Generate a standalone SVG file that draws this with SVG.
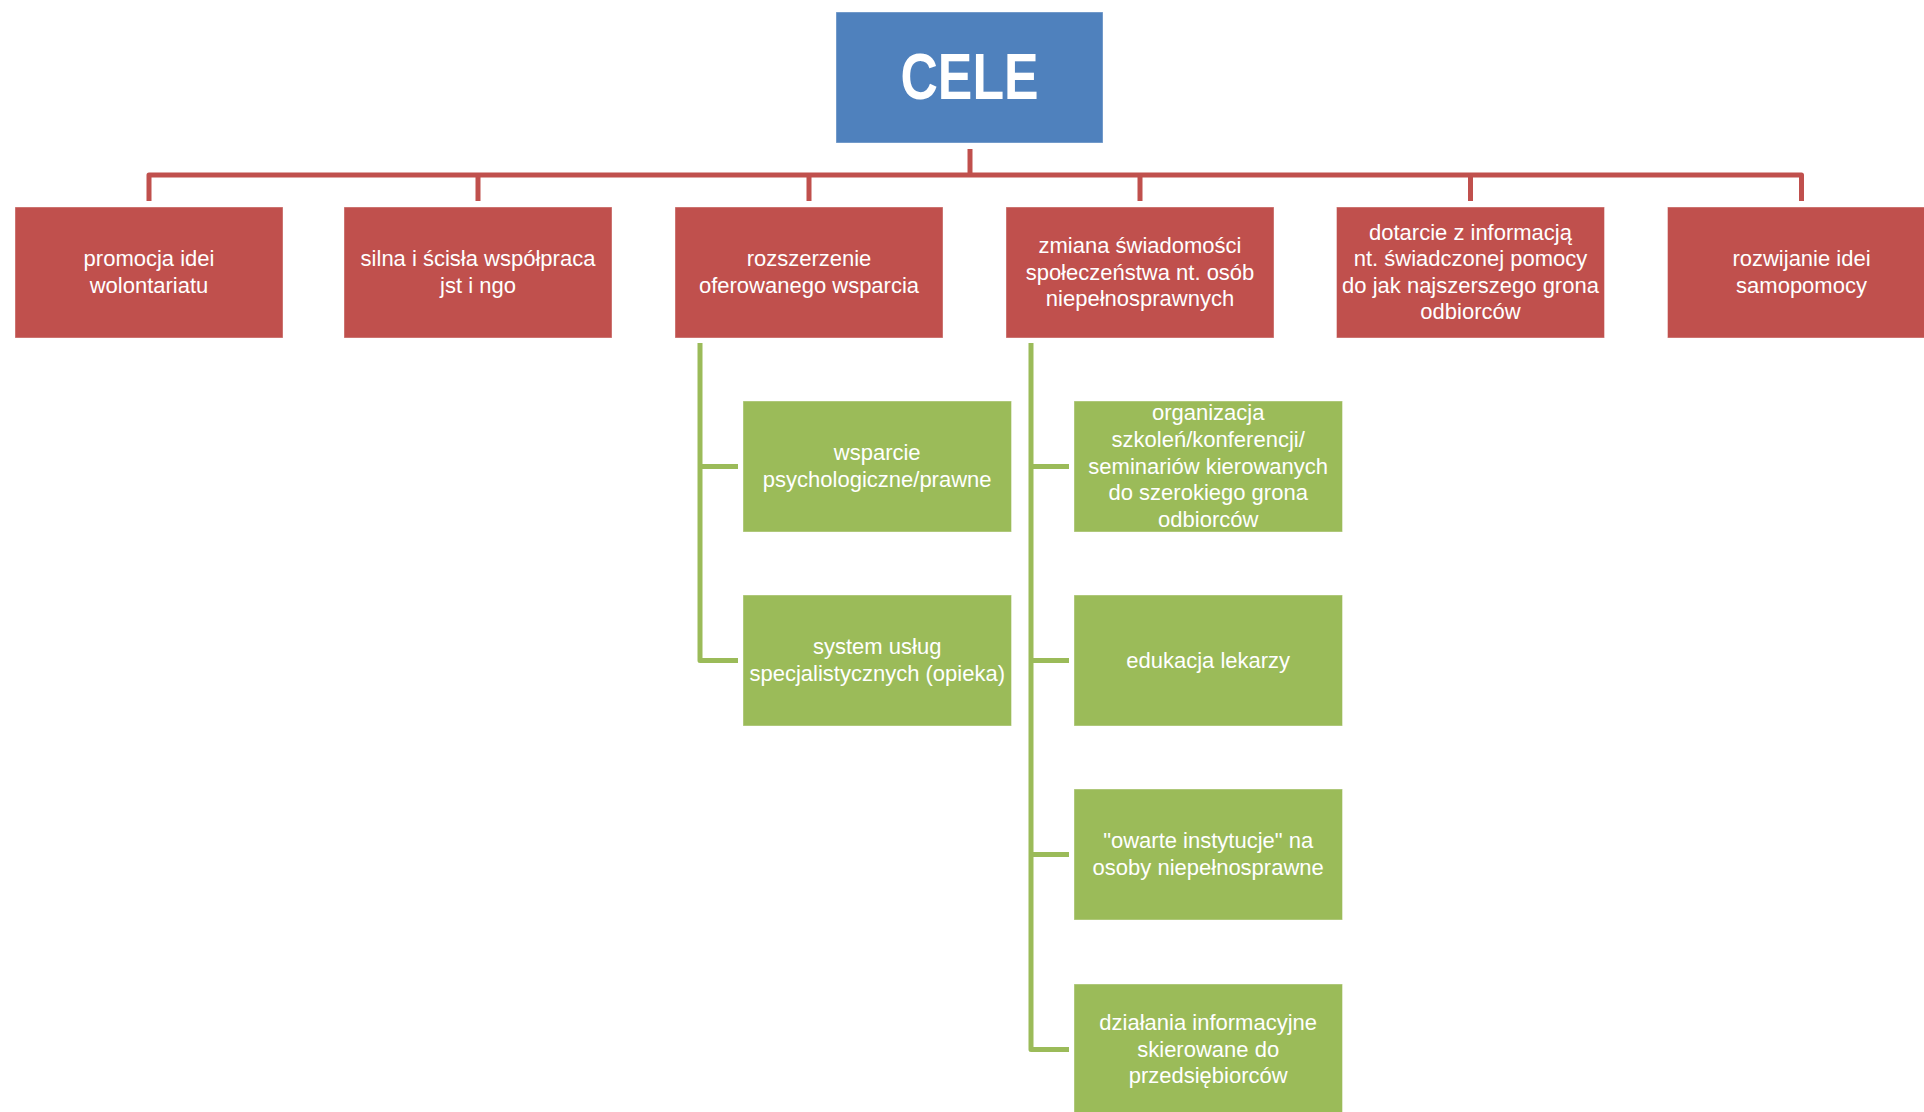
<svg xmlns="http://www.w3.org/2000/svg" width="1924" height="1112" viewBox="0 0 1924 1112">
<style>
.bg{fill:#ffffff}
.root{fill:#4F81BD;stroke:#ffffff;stroke-opacity:0.4;stroke-width:1}
.red{fill:#C0504D;stroke:#ffffff;stroke-opacity:0.4;stroke-width:1}
.green{fill:#9BBB59;stroke:#ffffff;stroke-opacity:0.4;stroke-width:1}
.t{font-family:"Liberation Sans",Arial,sans-serif;font-size:22px;fill:#ffffff;text-anchor:middle}
.tt{font-family:"Liberation Sans",Arial,sans-serif;font-size:64px;font-weight:bold;fill:#ffffff;text-anchor:middle}
.cr{fill:none;stroke:#C0504D;stroke-width:5;stroke-linejoin:round}
.cg{fill:none;stroke:#9BBB59;stroke-width:5;stroke-linejoin:round}
</style>
<rect class="bg" x="0" y="0" width="1924" height="1112"/>
<g id="connectors">
<path class="cr" d="M970,149 V175"/>
<path class="cr" d="M149,201 V175 H1801.5 V201"/>
<path class="cr" d="M478,175 V201 M809,175 V201 M1140,175 V201 M1470.5,175 V201"/>
<path class="cg" d="M700,343 V660.5 H738 M700,466.5 H738"/>
<path class="cg" d="M1031,343 V1049.5 H1069 M1031,466.5 H1069 M1031,660.5 H1069 M1031,854.5 H1069"/>
</g>
<g id="cele">
<rect class="root" x="836" y="12" width="267" height="131"/>
<text class="tt" x="969.5" y="99" textLength="138" lengthAdjust="spacingAndGlyphs">CELE</text>
</g>
<g id="n1">
<rect class="red" x="15" y="207" width="268" height="131"/>
<text class="t"><tspan x="149" y="266.2">promocja idei</tspan><tspan x="149" y="292.8">wolontariatu</tspan></text>
</g>
<g id="n2">
<rect class="red" x="344" y="207" width="268" height="131"/>
<text class="t"><tspan x="478" y="266.2">silna i ścisła współpraca</tspan><tspan x="478" y="292.8">jst i ngo</tspan></text>
</g>
<g id="n3">
<rect class="red" x="675" y="207" width="268" height="131"/>
<text class="t"><tspan x="809" y="266.2">rozszerzenie</tspan><tspan x="809" y="292.8">oferowanego wsparcia</tspan></text>
</g>
<g id="n4">
<rect class="red" x="1006" y="207" width="268" height="131"/>
<text class="t"><tspan x="1140" y="252.9">zmiana świadomości</tspan><tspan x="1140" y="279.5">społeczeństwa nt. osób</tspan><tspan x="1140" y="306.1">niepełnosprawnych</tspan></text>
</g>
<g id="n5">
<rect class="red" x="1336.5" y="207" width="268" height="131"/>
<text class="t"><tspan x="1470.5" y="239.6">dotarcie z informacją</tspan><tspan x="1470.5" y="266.2">nt. świadczonej pomocy</tspan><tspan x="1470.5" y="292.8">do jak najszerszego grona</tspan><tspan x="1470.5" y="319.4">odbiorców</tspan></text>
</g>
<g id="n6">
<rect class="red" x="1667.5" y="207" width="268" height="131"/>
<text class="t"><tspan x="1801.5" y="266.2">rozwijanie idei</tspan><tspan x="1801.5" y="292.8">samopomocy</tspan></text>
</g>
<g id="g1">
<rect class="green" x="743" y="401" width="268.5" height="131"/>
<text class="t"><tspan x="877.2" y="460.2">wsparcie</tspan><tspan x="877.2" y="486.8">psychologiczne/prawne</tspan></text>
</g>
<g id="g2">
<rect class="green" x="743" y="595" width="268.5" height="131"/>
<text class="t"><tspan x="877.2" y="654.2">system usług</tspan><tspan x="877.2" y="680.8">specjalistycznych (opieka)</tspan></text>
</g>
<g id="g3">
<rect class="green" x="1074" y="401" width="268.5" height="131"/>
<text class="t"><tspan x="1208.2" y="420.3">organizacja</tspan><tspan x="1208.2" y="446.9">szkoleń/konferencji/</tspan><tspan x="1208.2" y="473.5">seminariów kierowanych</tspan><tspan x="1208.2" y="500.1">do szerokiego grona</tspan><tspan x="1208.2" y="526.7">odbiorców</tspan></text>
</g>
<g id="g4">
<rect class="green" x="1074" y="595" width="268.5" height="131"/>
<text class="t"><tspan x="1208.2" y="667.5">edukacja lekarzy</tspan></text>
</g>
<g id="g5">
<rect class="green" x="1074" y="789" width="268.5" height="131"/>
<text class="t"><tspan x="1208.2" y="848.2">"owarte instytucje" na</tspan><tspan x="1208.2" y="874.8">osoby niepełnosprawne</tspan></text>
</g>
<g id="g6">
<rect class="green" x="1074" y="984" width="268.5" height="140"/>
<text class="t"><tspan x="1208.2" y="1029.9">działania informacyjne</tspan><tspan x="1208.2" y="1056.5">skierowane do</tspan><tspan x="1208.2" y="1083.1">przedsiębiorców</tspan></text>
</g>
</svg>
